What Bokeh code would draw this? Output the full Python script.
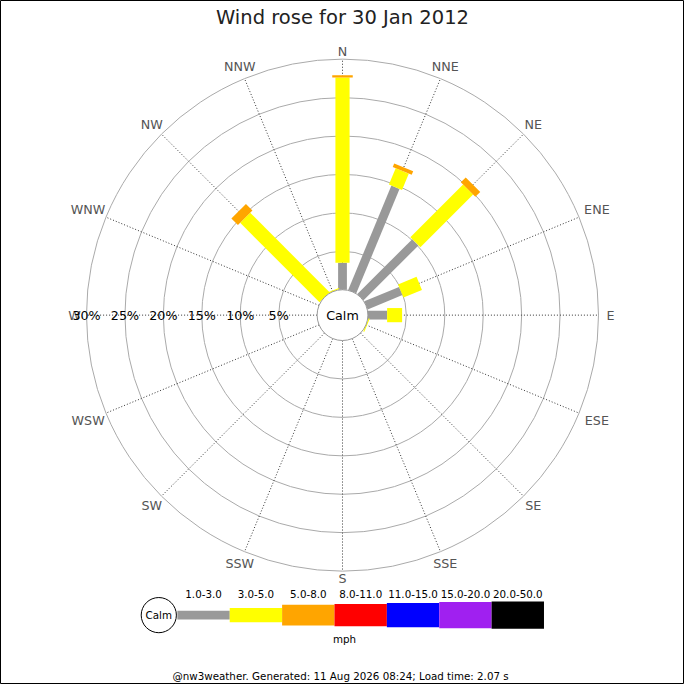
import math
from bokeh.plotting import figure
from bokeh.models import Range1d, ColumnDataSource
from bokeh.embed import file_html
from bokeh.resources import INLINE
from bokeh.core.properties import value

# ---------------- data ----------------
title_text = "Wind rose for 30 Jan 2012"
directions = ["N", "NNE", "NE", "ENE", "E", "ESE", "SE", "SSE",
              "S", "SSW", "SW", "WSW", "W", "WNW", "NW", "NNW"]
band_labels = ["1.0-3.0", "3.0-5.0", "5.0-8.0", "8.0-11.0",
               "11.0-15.0", "15.0-20.0", "20.0-50.0"]
band_colors = ["#999999", "#ffff00", "#ffa500", "#ff0000",
               "#0000ff", "#a020f0", "#000000"]
# percentage of time per direction, per speed band (mph)
speed_1_3 = [3.5, 14.7, 10.1, 4.9, 2.5, 0, 0, 0, 0, 0, 0, 0, 0, 0, 0, 0]
speed_3_5 = [24.1, 2.3, 9.7, 2.6, 1.95, 0.15, 0, 0, 0, 0, 0, 0, 0, 0, 14.6, 0.15]
speed_5_8 = [0.3, 0.5, 0.9, 0, 0, 0, 0, 0, 0, 0, 0, 0, 0, 0, 1.2, 0]
speed_8_11 = [0] * 16
speed_11_15 = [0] * 16
speed_15_20 = [0] * 16
speed_20_50 = [0] * 16
pct_ticks = [5, 10, 15, 20, 25, 30]
units_text = "mph"
calm_text = "Calm"
footer_text = "@nw3weather. Generated: 11 Aug 2026 08:24; Load time: 2.07 s"

bands = [speed_1_3, speed_3_5, speed_5_8, speed_8_11,
         speed_11_15, speed_15_20, speed_20_50]

# ---------------- layout / style ----------------
FONT = value("DejaVu Sans")
W = H = 684
PAGE = 700
CX, CY = 350, PAGE - 322          # rose centre (data coords, y up)
CALM_R = 26
MAX_PCT = 30
OUTER_R = 262
PX_PER_PCT = (OUTER_R - CALM_R) / MAX_PCT
band_widths = [9, 14.5, 21, 23, 25, 27, 28]


def rad(pct):
    return CALM_R + pct * PX_PER_PCT


def Y(py):
    return PAGE - py


p = figure(width=W, height=H, x_range=Range1d(0, PAGE), y_range=Range1d(0, PAGE),
           output_backend="svg", toolbar_location=None, min_border=0,
           x_axis_location=None, y_axis_location=None)
p.grid.visible = False
p.outline_line_color = "black"
p.outline_line_width = 1
p.background_fill_color = "white"
p.border_fill_color = "white"

# title
p.text(x=[350], y=[Y(17)], text=[title_text], text_font=FONT,
       text_font_size="19.5px", text_color="#222222",
       text_align="center", text_baseline="middle")

# grid rings
p.circle(x=[CX] * len(pct_ticks), y=[CY] * len(pct_ticks),
         radius=[rad(t) for t in pct_ticks], fill_color=None,
         line_color="#aaaaaa", line_width=1)

# spokes
angles = [i * 2 * math.pi / len(directions) for i in range(len(directions))]
p.segment(x0=[CX + CALM_R * math.sin(a) for a in angles],
          y0=[CY + CALM_R * math.cos(a) for a in angles],
          x1=[CX + OUTER_R * math.sin(a) for a in angles],
          y1=[CY + OUTER_R * math.cos(a) for a in angles],
          line_color="#333333", line_width=1, line_dash="1 2")

# direction labels
lab_x, lab_y = [], []
for d, a in zip(directions, angles):
    w = len(d) * 8.5
    r = 270 + 0.5 * w * abs(math.sin(a))
    lab_x.append(CX + r * math.sin(a))
    lab_y.append(CY + r * math.cos(a))
p.text(x=lab_x, y=lab_y, text=directions, text_font=FONT,
       text_font_size="12.7px", text_color="#555555",
       text_align="center", text_baseline="middle")

# percentage labels along W
p.text(x=[CX - rad(t) for t in pct_ticks], y=[CY] * len(pct_ticks),
       text=["%d%%" % t for t in pct_ticks], text_font=FONT,
       text_font_size="12.7px", text_color="#000000",
       text_align="center", text_baseline="middle")

# bars
for di, a in enumerate(angles):
    cum = 0.0
    for bi, band in enumerate(bands):
        v = band[di]
        if v <= 0:
            continue
        r0, r1 = rad(cum), rad(cum + v)
        cum += v
        rm = (r0 + r1) / 2
        p.rect(x=[CX + rm * math.sin(a)], y=[CY + rm * math.cos(a)],
               width=[band_widths[bi]], height=[r1 - r0], angle=[-a],
               fill_color=band_colors[bi], line_color=None)

# calm circle
p.circle(x=[CX], y=[CY], radius=[CALM_R], fill_color="white",
         line_color="#999999", line_width=1)
p.text(x=[CX], y=[CY], text=[calm_text], text_font=FONT,
       text_font_size="12.7px", text_color="#000000",
       text_align="center", text_baseline="middle")

# legend
LEG_Y = Y(629)
LEG_X0 = 181
LEG_W = 53.6
p.circle(x=[162], y=[LEG_Y], radius=[18], fill_color="white",
         line_color="#000000", line_width=1)
p.text(x=[162], y=[LEG_Y], text=[calm_text], text_font=FONT,
       text_font_size="10.3px", text_color="#000000",
       text_align="center", text_baseline="middle")
leg_src = ColumnDataSource(dict(
    x=[LEG_X0 + LEG_W * (i + 0.5) for i in range(len(band_labels))],
    y=[LEG_Y] * len(band_labels),
    w=[LEG_W] * len(band_labels),
    h=band_widths,
    c=band_colors,
    lab=band_labels,
    ly=[Y(607)] * len(band_labels),
))
p.rect(x="x", y="y", width="w", height="h", fill_color="c",
       line_color=None, source=leg_src)
p.text(x="x", y="ly", text="lab", source=leg_src, text_font=FONT,
       text_font_size="10.3px", text_color="#000000",
       text_align="center", text_baseline="middle")
p.text(x=[352], y=[Y(653)], text=[units_text], text_font=FONT,
       text_font_size="10.3px", text_color="#000000",
       text_align="center", text_baseline="middle")

# footer
p.text(x=[348], y=[Y(691)], text=[footer_text], text_font=FONT,
       text_font_size="10.3px", text_color="#000000",
       text_align="center", text_baseline="middle")

open("out.html", "w").write(file_html(p, INLINE))
